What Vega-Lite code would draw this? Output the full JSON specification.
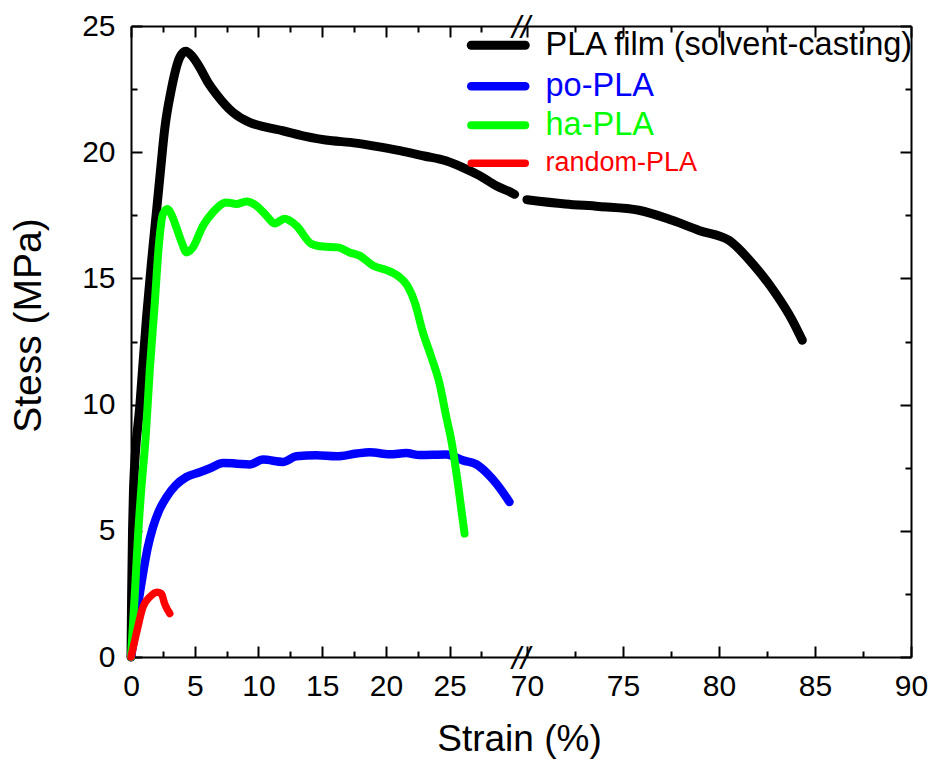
{
  "$schema": "https://vega.github.io/schema/vega-lite/v6.json",
  "autosize": {"type": "none"},
  "width": 780,
  "height": 631,
  "padding": {"left": 131, "top": 26, "right": 26, "bottom": 103},
  "background": "white",
  "config": {
    "view": {"stroke": null},
    "font": "Liberation Sans",
    "axis": {"grid": false, "domainColor": "#000000", "domainWidth": 2, "tickColor": "#000000", "tickWidth": 2, "labelColor": "#000000", "titleColor": "#000000", "labelFont": "Liberation Sans", "titleFont": "Liberation Sans", "titleFontWeight": "normal"}
  },
  "datasets": {
    "curves": [
      {"sample": "PLA film (solvent-casting)", "seg": "a", "strain": 0, "stress": 0},
      {"sample": "PLA film (solvent-casting)", "seg": "a", "strain": 0.05, "stress": 2.5},
      {"sample": "PLA film (solvent-casting)", "seg": "a", "strain": 0.12, "stress": 5.0},
      {"sample": "PLA film (solvent-casting)", "seg": "a", "strain": 0.2, "stress": 6.7},
      {"sample": "PLA film (solvent-casting)", "seg": "a", "strain": 0.7, "stress": 10.0},
      {"sample": "PLA film (solvent-casting)", "seg": "a", "strain": 1.21, "stress": 13.4},
      {"sample": "PLA film (solvent-casting)", "seg": "a", "strain": 1.6, "stress": 15.6},
      {"sample": "PLA film (solvent-casting)", "seg": "a", "strain": 1.99, "stress": 17.6},
      {"sample": "PLA film (solvent-casting)", "seg": "a", "strain": 2.3, "stress": 19.2},
      {"sample": "PLA film (solvent-casting)", "seg": "a", "strain": 2.64, "stress": 20.9},
      {"sample": "PLA film (solvent-casting)", "seg": "a", "strain": 3.17, "stress": 22.5},
      {"sample": "PLA film (solvent-casting)", "seg": "a", "strain": 3.82, "stress": 23.75},
      {"sample": "PLA film (solvent-casting)", "seg": "a", "strain": 4.29, "stress": 24.0},
      {"sample": "PLA film (solvent-casting)", "seg": "a", "strain": 4.8, "stress": 23.8},
      {"sample": "PLA film (solvent-casting)", "seg": "a", "strain": 5.39, "stress": 23.36},
      {"sample": "PLA film (solvent-casting)", "seg": "a", "strain": 6.0, "stress": 22.8},
      {"sample": "PLA film (solvent-casting)", "seg": "a", "strain": 6.7, "stress": 22.3},
      {"sample": "PLA film (solvent-casting)", "seg": "a", "strain": 8.0, "stress": 21.58},
      {"sample": "PLA film (solvent-casting)", "seg": "a", "strain": 9.3, "stress": 21.18},
      {"sample": "PLA film (solvent-casting)", "seg": "a", "strain": 10.5, "stress": 21.0},
      {"sample": "PLA film (solvent-casting)", "seg": "a", "strain": 11.9, "stress": 20.85},
      {"sample": "PLA film (solvent-casting)", "seg": "a", "strain": 13.5, "stress": 20.65},
      {"sample": "PLA film (solvent-casting)", "seg": "a", "strain": 15.8, "stress": 20.45},
      {"sample": "PLA film (solvent-casting)", "seg": "a", "strain": 17.2, "stress": 20.39},
      {"sample": "PLA film (solvent-casting)", "seg": "a", "strain": 19.0, "stress": 20.25},
      {"sample": "PLA film (solvent-casting)", "seg": "a", "strain": 21.1, "stress": 20.06},
      {"sample": "PLA film (solvent-casting)", "seg": "a", "strain": 23.0, "stress": 19.85},
      {"sample": "PLA film (solvent-casting)", "seg": "a", "strain": 24.7, "stress": 19.66},
      {"sample": "PLA film (solvent-casting)", "seg": "a", "strain": 26.0, "stress": 19.4},
      {"sample": "PLA film (solvent-casting)", "seg": "a", "strain": 27.35, "stress": 19.07},
      {"sample": "PLA film (solvent-casting)", "seg": "a", "strain": 28.66, "stress": 18.67},
      {"sample": "PLA film (solvent-casting)", "seg": "a", "strain": 29.96, "stress": 18.37},
      {"sample": "PLA film (solvent-casting)", "seg": "a", "strain": 30.1, "stress": 18.33},
      {"sample": "PLA film (solvent-casting)", "seg": "b", "strain": 70.0, "stress": 18.12},
      {"sample": "PLA film (solvent-casting)", "seg": "b", "strain": 72.0, "stress": 17.95},
      {"sample": "PLA film (solvent-casting)", "seg": "b", "strain": 73.75, "stress": 17.85},
      {"sample": "PLA film (solvent-casting)", "seg": "b", "strain": 75.83, "stress": 17.7},
      {"sample": "PLA film (solvent-casting)", "seg": "b", "strain": 77.57, "stress": 17.3},
      {"sample": "PLA film (solvent-casting)", "seg": "b", "strain": 78.96, "stress": 16.9},
      {"sample": "PLA film (solvent-casting)", "seg": "b", "strain": 80.52, "stress": 16.51},
      {"sample": "PLA film (solvent-casting)", "seg": "b", "strain": 81.74, "stress": 15.59},
      {"sample": "PLA film (solvent-casting)", "seg": "b", "strain": 82.95, "stress": 14.4},
      {"sample": "PLA film (solvent-casting)", "seg": "b", "strain": 83.82, "stress": 13.34},
      {"sample": "PLA film (solvent-casting)", "seg": "b", "strain": 84.34, "stress": 12.55},
      {"sample": "po-PLA", "seg": "a", "strain": 0, "stress": 0},
      {"sample": "po-PLA", "seg": "a", "strain": 0.29, "stress": 0.93},
      {"sample": "po-PLA", "seg": "a", "strain": 0.6, "stress": 2.2},
      {"sample": "po-PLA", "seg": "a", "strain": 0.94, "stress": 3.3},
      {"sample": "po-PLA", "seg": "a", "strain": 1.3, "stress": 4.3},
      {"sample": "po-PLA", "seg": "a", "strain": 1.73, "stress": 5.15},
      {"sample": "po-PLA", "seg": "a", "strain": 2.2, "stress": 5.8},
      {"sample": "po-PLA", "seg": "a", "strain": 2.78, "stress": 6.33},
      {"sample": "po-PLA", "seg": "a", "strain": 3.5, "stress": 6.8},
      {"sample": "po-PLA", "seg": "a", "strain": 4.35, "stress": 7.13},
      {"sample": "po-PLA", "seg": "a", "strain": 5.39, "stress": 7.32},
      {"sample": "po-PLA", "seg": "a", "strain": 6.3, "stress": 7.5},
      {"sample": "po-PLA", "seg": "a", "strain": 7.22, "stress": 7.69},
      {"sample": "po-PLA", "seg": "a", "strain": 8.3, "stress": 7.66},
      {"sample": "po-PLA", "seg": "a", "strain": 9.31, "stress": 7.63},
      {"sample": "po-PLA", "seg": "a", "strain": 10.35, "stress": 7.82},
      {"sample": "po-PLA", "seg": "a", "strain": 11.92, "stress": 7.73},
      {"sample": "po-PLA", "seg": "a", "strain": 12.97, "stress": 7.95},
      {"sample": "po-PLA", "seg": "a", "strain": 14.54, "stress": 7.99},
      {"sample": "po-PLA", "seg": "a", "strain": 16.11, "stress": 7.95},
      {"sample": "po-PLA", "seg": "a", "strain": 17.68, "stress": 8.06},
      {"sample": "po-PLA", "seg": "a", "strain": 18.72, "stress": 8.11},
      {"sample": "po-PLA", "seg": "a", "strain": 20.29, "stress": 8.03},
      {"sample": "po-PLA", "seg": "a", "strain": 21.6, "stress": 8.08},
      {"sample": "po-PLA", "seg": "a", "strain": 22.64, "stress": 8.0},
      {"sample": "po-PLA", "seg": "a", "strain": 24.74, "stress": 8.02},
      {"sample": "po-PLA", "seg": "a", "strain": 26.04, "stress": 7.79},
      {"sample": "po-PLA", "seg": "a", "strain": 27.2, "stress": 7.6},
      {"sample": "po-PLA", "seg": "a", "strain": 28.0, "stress": 7.25},
      {"sample": "po-PLA", "seg": "a", "strain": 28.7, "stress": 6.85},
      {"sample": "po-PLA", "seg": "a", "strain": 29.7, "stress": 6.14},
      {"sample": "ha-PLA", "seg": "a", "strain": 0, "stress": 0},
      {"sample": "ha-PLA", "seg": "a", "strain": 0.3, "stress": 2.5},
      {"sample": "ha-PLA", "seg": "a", "strain": 0.55, "stress": 4.8},
      {"sample": "ha-PLA", "seg": "a", "strain": 0.82, "stress": 6.73},
      {"sample": "ha-PLA", "seg": "a", "strain": 1.15, "stress": 8.71},
      {"sample": "ha-PLA", "seg": "a", "strain": 1.47, "stress": 11.35},
      {"sample": "ha-PLA", "seg": "a", "strain": 1.86, "stress": 13.99},
      {"sample": "ha-PLA", "seg": "a", "strain": 2.2, "stress": 16.4},
      {"sample": "ha-PLA", "seg": "a", "strain": 2.51, "stress": 17.55},
      {"sample": "ha-PLA", "seg": "a", "strain": 2.85, "stress": 17.75},
      {"sample": "ha-PLA", "seg": "a", "strain": 3.2, "stress": 17.5},
      {"sample": "ha-PLA", "seg": "a", "strain": 3.56, "stress": 17.02},
      {"sample": "ha-PLA", "seg": "a", "strain": 4.0, "stress": 16.4},
      {"sample": "ha-PLA", "seg": "a", "strain": 4.35, "stress": 16.03},
      {"sample": "ha-PLA", "seg": "a", "strain": 4.86, "stress": 16.23},
      {"sample": "ha-PLA", "seg": "a", "strain": 5.65, "stress": 17.09},
      {"sample": "ha-PLA", "seg": "a", "strain": 6.43, "stress": 17.62},
      {"sample": "ha-PLA", "seg": "a", "strain": 7.48, "stress": 18.01},
      {"sample": "ha-PLA", "seg": "a", "strain": 8.27, "stress": 17.95},
      {"sample": "ha-PLA", "seg": "a", "strain": 9.05, "stress": 18.05},
      {"sample": "ha-PLA", "seg": "a", "strain": 9.84, "stress": 17.88},
      {"sample": "ha-PLA", "seg": "a", "strain": 10.62, "stress": 17.49},
      {"sample": "ha-PLA", "seg": "a", "strain": 11.27, "stress": 17.18},
      {"sample": "ha-PLA", "seg": "a", "strain": 12.05, "stress": 17.36},
      {"sample": "ha-PLA", "seg": "a", "strain": 12.97, "stress": 17.09},
      {"sample": "ha-PLA", "seg": "a", "strain": 14.15, "stress": 16.37},
      {"sample": "ha-PLA", "seg": "a", "strain": 15.06, "stress": 16.26},
      {"sample": "ha-PLA", "seg": "a", "strain": 16.24, "stress": 16.23},
      {"sample": "ha-PLA", "seg": "a", "strain": 17.15, "stress": 16.03},
      {"sample": "ha-PLA", "seg": "a", "strain": 17.94, "stress": 15.9},
      {"sample": "ha-PLA", "seg": "a", "strain": 18.98, "stress": 15.51},
      {"sample": "ha-PLA", "seg": "a", "strain": 20.29, "stress": 15.28},
      {"sample": "ha-PLA", "seg": "a", "strain": 21.07, "stress": 15.05},
      {"sample": "ha-PLA", "seg": "a", "strain": 21.7, "stress": 14.7},
      {"sample": "ha-PLA", "seg": "a", "strain": 22.3, "stress": 14.0},
      {"sample": "ha-PLA", "seg": "a", "strain": 22.85, "stress": 12.95},
      {"sample": "ha-PLA", "seg": "a", "strain": 23.56, "stress": 11.89},
      {"sample": "ha-PLA", "seg": "a", "strain": 24.21, "stress": 10.83},
      {"sample": "ha-PLA", "seg": "a", "strain": 24.74, "stress": 9.51},
      {"sample": "ha-PLA", "seg": "a", "strain": 25.13, "stress": 8.59},
      {"sample": "ha-PLA", "seg": "a", "strain": 25.65, "stress": 6.87},
      {"sample": "ha-PLA", "seg": "a", "strain": 26.17, "stress": 4.89},
      {"sample": "random-PLA", "seg": "a", "strain": 0, "stress": 0},
      {"sample": "random-PLA", "seg": "a", "strain": 0.42, "stress": 0.93},
      {"sample": "random-PLA", "seg": "a", "strain": 0.94, "stress": 1.98},
      {"sample": "random-PLA", "seg": "a", "strain": 1.47, "stress": 2.38},
      {"sample": "random-PLA", "seg": "a", "strain": 2.04, "stress": 2.57},
      {"sample": "random-PLA", "seg": "a", "strain": 2.38, "stress": 2.51},
      {"sample": "random-PLA", "seg": "a", "strain": 2.64, "stress": 2.11},
      {"sample": "random-PLA", "seg": "a", "strain": 3.04, "stress": 1.72}
    ],
    "breaks": [
      {"strain": 30.6, "stress": 0, "mark": "//"},
      {"strain": 30.6, "stress": 25, "mark": "//"}
    ]
  },
  "layer": [
    {
      "data": {"name": "curves"},
      "mark": {"type": "line", "strokeCap": "round", "strokeJoin": "round", "interpolate": "monotone"},
      "encoding": {
        "x": {
          "field": "strain", "type": "quantitative",
          "scale": {"domain": [0, 30.6, 69.69, 90], "range": [0, 390, 390, 780], "nice": false, "zero": false},
          "axis": {
            "orient": "bottom",
            "title": "Strain (%)",
            "titleFontSize": 37,
            "titleX": 388,
            "titleY": 93,
            "titleBaseline": "alphabetic",
            "titleAlign": "center",
            "values": [0, 2.5, 5, 7.5, 10, 12.5, 15, 17.5, 20, 22.5, 25, 27.5, 70, 72.5, 75, 77.5, 80, 82.5, 85, 87.5, 90],
            "labelExpr": "datum.value % 5 === 0 ? format(datum.value, 'd') : ''",
            "labelFontSize": 30,
            "labelOverlap": false,
            "labelFlush": false,
            "labelPadding": 25,
            "tickSize": {"condition": {"test": "datum.value % 5 === 0", "value": -11}, "value": -6}
          }
        },
        "y": {
          "field": "stress", "type": "quantitative",
          "scale": {"domain": [0, 25], "nice": false, "zero": false},
          "axis": {
            "orient": "left",
            "title": "Stess (MPa)",
            "titleFontSize": 39,
            "titleX": -91,
            "titleY": 299,
            "titleAngle": 270,
            "titleBaseline": "alphabetic",
            "titleAlign": "center",
            "values": [0, 2.5, 5, 7.5, 10, 12.5, 15, 17.5, 20, 22.5, 25],
            "labelExpr": "datum.value % 5 === 0 ? format(datum.value, 'd') : ''",
            "labelFontSize": 30,
            "labelOverlap": false,
            "labelFlush": false,
            "labelPadding": 27,
            "tickSize": {"condition": {"test": "datum.value % 5 === 0", "value": -11}, "value": -6}
          }
        },
        "color": {
          "field": "sample", "type": "nominal",
          "scale": {"domain": ["PLA film (solvent-casting)", "po-PLA", "ha-PLA", "random-PLA"], "range": ["#000000", "#0000ff", "#00ff00", "#ff0000"]},
          "legend": {
            "orient": "none",
            "legendX": 351,
            "legendY": 3,
            "title": null,
            "padding": 0,
            "symbolType": "M-3,0L3,0",
            "symbolStrokeWidth": 9,
            "symbolSize": 324,
            "symbolFillColor": "transparent",
            "labelFont": "Liberation Sans",
            "labelFontSize": 32,
            "labelOffset": 31,
            "rowPadding": 5,
            "labelLimit": 500,
            "encode": {
              "labels": {"update": {"fill": {"scale": "color", "field": "value"}, "fontSize": {"signal": "datum.value === 'random-PLA' ? 27 : 32.5"}}},
              "symbols": {"update": {"strokeCap": {"value": "round"}}}
            }
          }
        },
        "strokeWidth": {
          "field": "sample", "type": "nominal",
          "scale": {"domain": ["PLA film (solvent-casting)", "po-PLA", "ha-PLA", "random-PLA"], "range": [9, 7.5, 7.5, 7.5]},
          "legend": null
        },
        "detail": {"field": "seg", "type": "nominal"}
      }
    },
    {
      "data": {"name": "breaks"},
      "mark": {"type": "text", "fontSize": 32, "font": "Liberation Sans", "fontStyle": "italic", "align": "center", "baseline": "middle", "color": "#000000", "dy": 2},
      "encoding": {
        "x": {
          "field": "strain", "type": "quantitative",
          "axis": {
            "orient": "top", "title": null, "labels": false,
            "values": [0, 2.5, 5, 7.5, 10, 12.5, 15, 17.5, 20, 22.5, 25, 27.5, 70, 72.5, 75, 77.5, 80, 82.5, 85, 87.5, 90],
            "tickSize": {"condition": {"test": "datum.value % 5 === 0", "value": -11}, "value": -6}
          }
        },
        "y": {
          "field": "stress", "type": "quantitative",
          "axis": {
            "orient": "right", "title": null, "labels": false,
            "values": [0, 2.5, 5, 7.5, 10, 12.5, 15, 17.5, 20, 22.5, 25],
            "tickSize": {"condition": {"test": "datum.value % 5 === 0", "value": -11}, "value": -6}
          }
        },
        "text": {"field": "mark", "type": "nominal"}
      }
    }
  ],
  "resolve": {"axis": {"x": "independent", "y": "independent"}}
}
